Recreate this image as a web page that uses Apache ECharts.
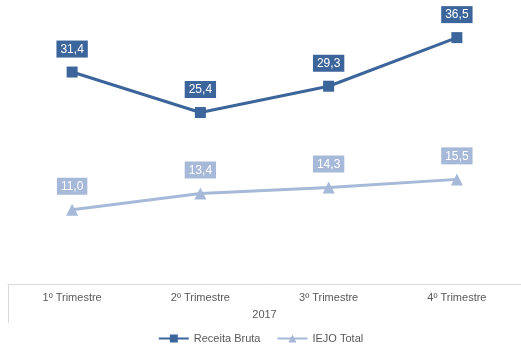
<!DOCTYPE html>
<html><head><meta charset="utf-8">
<script src="https://cdn.jsdelivr.net/npm/echarts@6/dist/echarts.min.js"></script>
<style>html,body{margin:0;padding:0;background:#fff}#c{width:521px;height:349px}</style>
</head><body><div id="c"></div>
<script>
const categories = ['1º Trimestre', '2º Trimestre', '3º Trimestre', '4º Trimestre'];
const groupLabel = ['2017'];
const receitaBruta = [31.4, 25.4, 29.3, 36.5];
const iejoTotal = [11.0, 13.4, 14.3, 15.5];
const seriesNames = ['Receita Bruta', 'IEJO Total'];

const dark = '#3c659c';
const light = '#a7b9d8';
const fmt = p => p.value.toFixed(1).replace('.', ',');
const font = 'Liberation Sans';

const chart = echarts.init(document.getElementById('c'), null, {renderer: 'canvas'});
chart.setOption({
  animation: false,
  textStyle: {fontFamily: font},
  grid: {left: 8, width: 520, top: 14, bottom: 65, containLabel: false},
  legend: {
    bottom: 0, left: 'center', itemGap: 16, itemWidth: 30, itemHeight: 10,
    textStyle: {fontFamily: font, fontSize: 11, color: '#595959'},
    data: seriesNames
  },
  xAxis: [{
    type: 'category', data: categories, boundaryGap: true,
    axisLine: {lineStyle: {color: '#d9d9d9', width: 1}},
    axisTick: {show: false},
    axisLabel: {color: '#595959', fontSize: 11, margin: 8, fontFamily: font}
  }, {
    type: 'category', data: groupLabel, position: 'bottom', boundaryGap: true,
    axisLine: {show: false},
    axisTick: {show: true, length: 39, lineStyle: {color: '#d9d9d9'}},
    axisLabel: {color: '#595959', fontSize: 11, margin: 25, fontFamily: font}
  }],
  yAxis: {
    type: 'value', min: 0, max: 40, show: false,
    splitLine: {show: false}
  },
  series: [{
    name: seriesNames[0], type: 'line', data: receitaBruta,
    symbol: 'rect', symbolSize: 11,
    lineStyle: {color: dark, width: 3}, itemStyle: {color: dark},
    label: {show: true, position: 'top', distance: 9, formatter: fmt,
      backgroundColor: dark, color: '#fff', fontSize: 12, padding: [3, 4, 2, 4], fontFamily: font}
  }, {
    name: seriesNames[1], type: 'line', data: iejoTotal,
    symbol: 'triangle', symbolSize: 12,
    lineStyle: {color: light, width: 3}, itemStyle: {color: light},
    label: {show: true, position: 'top', distance: 9, formatter: fmt,
      backgroundColor: light, color: '#fff', fontSize: 12, padding: [3, 4, 2, 4], fontFamily: font}
  }]
});
</script>
</body></html>
